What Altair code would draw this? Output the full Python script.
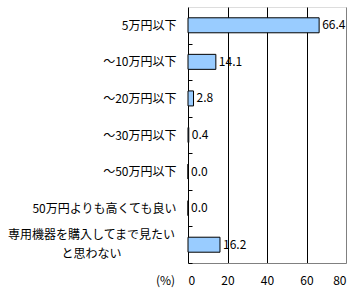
import altair as alt
import pandas as pd

categories = [
    "5万円以下",
    "～10万円以下",
    "～20万円以下",
    "～30万円以下",
    "～50万円以下",
    "50万円よりも高くても良い",
    "専用機器を購入してまで見たい|と思わない",
]
values = [66.4, 14.1, 2.8, 0.4, 0.0, 0.0, 16.2]
x_ticks = [0, 20, 40, 60, 80]

df = pd.DataFrame({"cat": categories, "val": values})
df["lbl"] = df["val"].map(lambda v: f"{v:.1f}")

FONT = "Noto Sans CJK JP"
W, H = 158, 256
STEP = H / len(categories)

is_multi = "indexof(datum.value, '|') >= 0"

y_enc = alt.Y(
    "cat:N",
    sort=categories,
    scale=alt.Scale(paddingInner=0, paddingOuter=0),
    axis=alt.Axis(
        title=None,
        orient="left",
        offset=-4,
        ticks=True,
        tickOffset=STEP / 2,
        labelOffset={"condition": {"test": is_multi, "value": -STEP / 2 - 10}, "value": -STEP / 2},
        tickSize=4,
        tickColor="black",
        tickWidth=1,
        domain=False,
        labelFont=FONT,
        labelFontSize=12,
        labelColor="black",
        labelExpr="split(datum.value, '|')",
        labelAlign={"condition": {"test": is_multi, "value": "center"}, "value": "right"},
        labelPadding={"condition": {"test": is_multi, "value": 97}, "value": 12},
        labelLineHeight=19,
        labelLimit=400,
        grid=False,
    ),
)

x_enc = alt.X(
    "val:Q",
    scale=alt.Scale(domain=[0, 80], nice=False),
    axis=alt.Axis(
        values=x_ticks,
        title="(%)",
        titleFont=FONT,
        titleFontSize=12,
        titleFontWeight="normal",
        titleColor="black",
        titleX=-23,
        titleY=12,
        titleAlign="center",
        titleBaseline="top",
        titleAnchor="start",
        ticks=False,
        domain=True,
        domainColor="#808080",
        labelFont=FONT,
        labelFontSize=12,
        labelColor="black",
        labelPadding=12,
        labelOverlap=False,
        grid=True,
        gridColor={"condition": {"test": "datum.value == 80", "value": "#808080"}, "value": "black"},
        gridOpacity=1,
        gridWidth=1,
    ),
)

bars = alt.Chart(df).mark_bar(
    fill="#99CCFF", stroke="black", strokeWidth=1, size=15
).encode(x=x_enc, y=y_enc)

text = alt.Chart(df).mark_text(
    align="left", baseline="middle", dx=3, font=FONT, fontSize=12, color="black"
).encode(x=x_enc, y=y_enc, text="lbl:N")

chart = (
    alt.layer(bars, text)
    .properties(
        width=W,
        height=H,
        autosize=alt.AutoSizeParams(type="none"),
        padding={"left": 188, "top": 7, "right": 16, "bottom": 33},
    )
    .configure_view(stroke=None)
    .configure(background="white")
)

chart.save("out.html", embed_options={"renderer": "svg", "actions": False})
